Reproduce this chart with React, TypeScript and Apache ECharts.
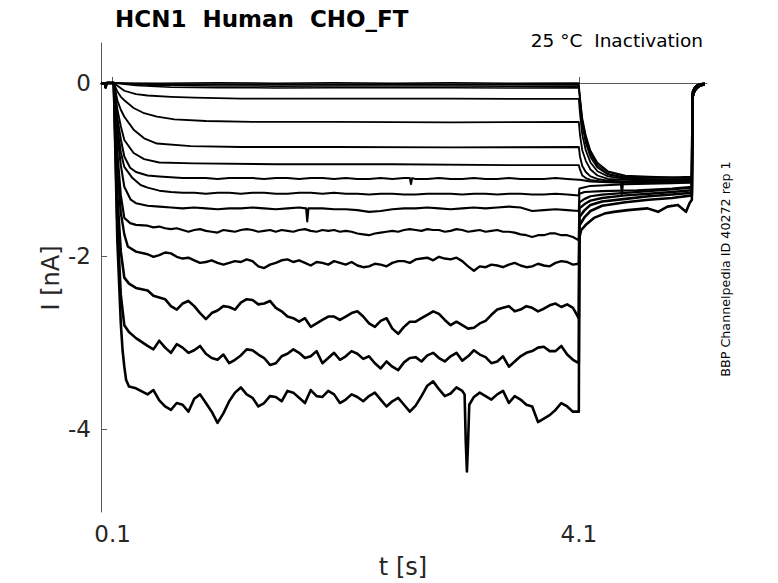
import React, { useEffect, useRef } from "react";
import * as echarts from "echarts";

type Pt = [number, number];

// ---- axis ticks ----
const xTicks = [0.1, 4.1];
const yTicks = [0, -2, -4];

// ---- shared time grids for the test-pulse body (s) ----
const tBody = [0.4, 0.5, 0.6, 0.7, 0.8, 0.9, 1.0, 1.1, 1.2, 1.3, 1.4, 1.5, 1.6, 1.7, 1.8, 1.9, 2.0, 2.1, 2.2, 2.3, 2.4, 2.5, 2.6, 2.7, 2.8, 2.9, 3.0, 3.1, 3.2, 3.3, 3.4, 3.5, 3.6, 3.7, 3.8, 3.9, 4.0, 4.1];
const tHalf = [0.45, 0.55, 0.65, 0.75, 0.85, 0.95, 1.05, 1.15, 1.25, 1.35, 1.45, 1.55, 1.65, 1.75, 1.85, 1.95, 2.05, 2.15, 2.25, 2.35, 2.45, 2.55, 2.65, 2.75, 2.85, 2.95, 3.05, 3.15, 3.25, 3.35, 3.45, 3.55, 3.65, 3.75, 3.85, 3.95, 4.05];

// ---- holding segment before the step (nA) ----
const preStep: Pt[] = [[0, 0], [0.035, -0.01], [0.04, -0.05], [0.045, -0.01], [0.05, 0], [0.1, 0]];

// ---- return to holding after the tail ----
const hookA: Pt[] = [[5.076, -0.1], [5.09, -0.06], [5.11, -0.03], [5.14, -0.012], [5.18, -0.004]];
const hookB: Pt[] = [[5.076, -0.13], [5.09, -0.08], [5.11, -0.045], [5.14, -0.022], [5.18, -0.01]];
const hookC: Pt[] = [[5.076, -0.16], [5.09, -0.1], [5.11, -0.06], [5.14, -0.03], [5.18, -0.015]];

// ---- traces near 0 ----
const trace01: Pt[] = [[0.11, 0], [0.5, -0.004], [1.0, 0.002], [1.5, -0.003], [2.0, 0.003], [2.5, -0.002], [3.0, 0.002], [3.5, -0.003], [4.1, 0]];
const tail01: Pt[] = [[4.11, -0.15], [4.13, -0.4], [4.16, -0.6], [4.2, -0.78], [4.26, -0.92], [4.35, -1.02], [4.5, -1.07], [4.7, -1.08], [4.9, -1.09], [5.07, -1.08]];
const trace02: Pt[] = [[0.11, 0], [0.5, -0.02], [1.0, -0.018], [1.5, -0.022], [2.0, -0.02], [2.5, -0.018], [3.0, -0.022], [3.5, -0.02], [4.1, -0.02]];
const tail02: Pt[] = [[4.11, -0.18], [4.13, -0.43], [4.16, -0.63], [4.2, -0.8], [4.26, -0.94], [4.35, -1.03], [4.5, -1.08], [4.7, -1.09], [4.9, -1.09], [5.07, -1.1]];
const trace03: Pt[] = [[0.11, 0], [0.4, -0.025], [1.0, -0.035], [1.5, -0.037], [2.0, -0.034], [2.5, -0.036], [3.0, -0.035], [3.5, -0.037], [4.1, -0.035]];
const tail03: Pt[] = [[4.11, -0.2], [4.13, -0.46], [4.16, -0.66], [4.2, -0.83], [4.26, -0.96], [4.35, -1.05], [4.5, -1.09], [4.7, -1.1], [4.9, -1.1], [5.07, -1.1]];
const trace04: Pt[] = [[0.11, 0], [0.3, -0.03], [0.6, -0.05], [1.0, -0.055], [1.5, -0.057], [2.0, -0.055], [2.5, -0.056], [3.0, -0.055], [3.5, -0.057], [4.1, -0.056]];
const tail04: Pt[] = [[4.11, -0.22], [4.13, -0.5], [4.16, -0.7], [4.2, -0.86], [4.26, -0.98], [4.35, -1.06], [4.5, -1.1], [4.7, -1.11], [4.9, -1.11], [5.07, -1.11]];

// ---- shallow traces ----
const trace05: Pt[] = [[0.11, 0], [0.15, -0.04], [0.2, -0.09], [0.3, -0.13], [0.4, -0.145], [0.6, -0.16], [0.8, -0.17], [1.2, -0.18], [2.0, -0.18], [3.0, -0.182], [4.1, -0.185]];
const tail05: Pt[] = [[4.11, -0.35], [4.13, -0.6], [4.16, -0.78], [4.2, -0.92], [4.26, -1.02], [4.35, -1.08], [4.5, -1.11], [4.7, -1.12], [4.9, -1.12], [5.07, -1.12]];
const trace06: Pt[] = [[0.11, 0], [0.14, -0.1], [0.17, -0.16], [0.2, -0.2], [0.28, -0.29], [0.37, -0.35], [0.48, -0.39], [0.63, -0.42], [0.9, -0.44], [1.3, -0.45], [2.0, -0.45], [3.0, -0.455], [4.1, -0.45]];
const tail06: Pt[] = [[4.11, -0.6], [4.13, -0.78], [4.16, -0.9], [4.2, -1.0], [4.26, -1.07], [4.35, -1.11], [4.5, -1.12], [4.7, -1.13], [4.9, -1.13], [5.07, -1.13]];
const trace07: Pt[] = [[0.11, 0], [0.14, -0.2], [0.17, -0.31], [0.2, -0.39], [0.28, -0.54], [0.37, -0.64], [0.48, -0.7], [0.77, -0.73], [1.2, -0.74], [2.0, -0.74], [3.0, -0.745], [4.1, -0.74]];
const tail07: Pt[] = [[4.11, -0.85], [4.13, -0.96], [4.16, -1.03], [4.2, -1.08], [4.26, -1.11], [4.35, -1.13], [4.5, -1.14], [4.7, -1.14], [4.9, -1.14], [5.07, -1.14]];
const trace08: Pt[] = [[0.11, 0], [0.14, -0.3], [0.17, -0.5], [0.2, -0.66], [0.28, -0.81], [0.37, -0.88], [0.5, -0.92], [0.8, -0.93], [1.5, -0.94], [2.5, -0.94], [3.5, -0.95], [4.1, -0.95]];
const tail08: Pt[] = [[4.11, -1.0], [4.13, -1.07], [4.16, -1.1], [4.2, -1.12], [4.3, -1.14], [4.5, -1.15], [4.7, -1.15], [4.9, -1.15], [5.07, -1.15]];

// ---- middle traces (onset + body on tBody) ----
const onset09: Pt[] = [[0.11, 0], [0.14, -0.4], [0.17, -0.65], [0.2, -0.85], [0.25, -0.98], [0.3, -1.03]];
const body09 = [-1.07, -1.08, -1.09, -1.1, -1.1, -1.1, -1.11, -1.1, -1.1, -1.1, -1.11, -1.1, -1.1, -1.11, -1.1, -1.1, -1.11, -1.1, -1.11, -1.11, -1.1, -1.11, -1.1, -1.11, -1.11, -1.1, -1.11, -1.11, -1.1, -1.11, -1.11, -1.1, -1.11, -1.11, -1.11, -1.1, -1.11, -1.12];
const spike09: Pt[] = [[2.65, -1.1], [2.66, -1.17], [2.67, -1.1], [4.46, -1.15], [4.47, -1.29], [4.48, -1.15]];
const tail09: Pt[] = [[4.11, -1.12], [4.2, -1.14], [4.4, -1.15], [4.6, -1.15], [4.8, -1.14], [5.07, -1.14]];

const onset10: Pt[] = [[0.11, 0], [0.14, -0.5], [0.17, -0.8], [0.2, -0.97], [0.27, -1.1], [0.34, -1.18]];
const body10 = [-1.21, -1.245, -1.26, -1.27, -1.27, -1.28, -1.27, -1.27, -1.28, -1.27, -1.27, -1.28, -1.28, -1.27, -1.27, -1.28, -1.27, -1.28, -1.28, -1.29, -1.28, -1.28, -1.29, -1.29, -1.28, -1.28, -1.28, -1.29, -1.28, -1.28, -1.29, -1.28, -1.28, -1.29, -1.29, -1.28, -1.29, -1.3];
const tail10: Pt[] = [[4.105, -1.22], [4.2, -1.19], [4.5, -1.17], [4.9, -1.16], [5.07, -1.15]];

const onset11: Pt[] = [[0.11, 0], [0.14, -0.6], [0.17, -0.95], [0.2, -1.2], [0.255, -1.35], [0.3, -1.39]];
const body11 = [-1.42, -1.43, -1.44, -1.45, -1.44, -1.45, -1.46, -1.45, -1.45, -1.44, -1.45, -1.46, -1.45, -1.44, -1.45, -1.45, -1.46, -1.46, -1.47, -1.49, -1.48, -1.46, -1.45, -1.45, -1.44, -1.45, -1.46, -1.45, -1.44, -1.45, -1.44, -1.43, -1.44, -1.48, -1.47, -1.46, -1.47, -1.48];
const spike11: Pt[] = [[1.76, -1.45], [1.77, -1.6], [1.78, -1.45]];
const tail11: Pt[] = [[4.105, -1.28], [4.15, -1.26], [4.3, -1.25], [4.6, -1.24], [4.9, -1.22], [5.07, -1.2]];

// ---- deep traces: body on tBody, extra wiggle on tHalf ----
const onset12: Pt[] = [[0.11, 0], [0.14, -0.8], [0.17, -1.3], [0.2, -1.56], [0.25, -1.62], [0.3, -1.64]];
const body12 = [-1.65, -1.66, -1.69, -1.7, -1.7, -1.71, -1.73, -1.71, -1.7, -1.7, -1.71, -1.72, -1.71, -1.7, -1.71, -1.7, -1.7, -1.71, -1.74, -1.76, -1.73, -1.71, -1.7, -1.7, -1.69, -1.7, -1.71, -1.7, -1.71, -1.72, -1.7, -1.72, -1.75, -1.78, -1.76, -1.74, -1.76, -1.82];
const half12 = [-1.67, -1.68, -1.68, -1.72, -1.69, -1.72, -1.7, -1.72, -1.69, -1.72, -1.7, -1.7, -1.72, -1.69, -1.72, -1.71, -1.72, -1.72, -1.75, -1.74, -1.72, -1.72, -1.69, -1.71, -1.7, -1.72, -1.69, -1.72, -1.7, -1.71, -1.72, -1.73, -1.76, -1.76, -1.74, -1.76, -1.78];
const tail12: Pt[] = [[4.105, -1.38], [4.15, -1.34], [4.2, -1.31], [4.3, -1.29], [4.5, -1.27], [4.7, -1.25], [4.9, -1.23], [5.07, -1.21]];

const onset13: Pt[] = [[0.11, 0], [0.14, -1.0], [0.17, -1.5], [0.2, -1.75], [0.23, -1.89], [0.3, -1.95]];
const body13 = [-1.98, -1.99, -1.97, -2.03, -2.05, -2.07, -2.08, -2.08, -2.07, -2.06, -2.14, -2.08, -2.04, -2.05, -2.11, -2.08, -2.06, -2.1, -2.11, -2.12, -2.1, -2.08, -2.06, -2.04, -2.02, -2.01, -2.04, -2.06, -2.17, -2.13, -2.11, -2.1, -2.11, -2.12, -2.11, -2.08, -2.07, -2.09];
const half13 = [-2.01, -1.96, -2.01, -2.02, -2.08, -2.05, -2.1, -2.06, -2.04, -2.12, -2.1, -2.05, -2.07, -2.08, -2.07, -2.1, -2.08, -2.07, -2.13, -2.09, -2.12, -2.06, -2.08, -2.03, -2.05, -2.03, -2.02, -2.12, -2.12, -2.1, -2.13, -2.08, -2.13, -2.09, -2.12, -2.06, -2.1];
const tail13: Pt[] = [[4.105, -1.45], [4.15, -1.4], [4.2, -1.36], [4.3, -1.33], [4.5, -1.3], [4.7, -1.28], [4.9, -1.26], [5.07, -1.24]];

const onset14: Pt[] = [[0.11, 0], [0.14, -1.3], [0.17, -1.95], [0.2, -2.25], [0.24, -2.32], [0.3, -2.37]];
const body14 = [-2.4, -2.48, -2.58, -2.55, -2.58, -2.73, -2.63, -2.59, -2.54, -2.51, -2.55, -2.6, -2.7, -2.76, -2.82, -2.74, -2.7, -2.7, -2.64, -2.78, -2.75, -2.84, -2.82, -2.76, -2.68, -2.67, -2.8, -2.8, -2.83, -2.75, -2.62, -2.58, -2.62, -2.6, -2.61, -2.55, -2.56, -2.72];
const half14 = [-2.46, -2.5, -2.62, -2.52, -2.66, -2.66, -2.58, -2.62, -2.5, -2.56, -2.52, -2.64, -2.72, -2.72, -2.78, -2.7, -2.74, -2.66, -2.7, -2.82, -2.72, -2.9, -2.76, -2.72, -2.64, -2.74, -2.76, -2.84, -2.78, -2.68, -2.6, -2.64, -2.58, -2.64, -2.57, -2.59, -2.6];
const tail14: Pt[] = [[4.105, -1.55], [4.15, -1.47], [4.2, -1.41], [4.3, -1.37], [4.5, -1.34], [4.7, -1.31], [4.9, -1.29], [5.07, -1.27]];

const onset15: Pt[] = [[0.11, 0], [0.14, -1.6], [0.17, -2.45], [0.2, -2.8], [0.24, -2.88], [0.3, -2.95]];
const body15 = [-3.04, -2.98, -3.12, -3.06, -3.09, -3.13, -3.2, -3.24, -3.15, -3.09, -3.18, -3.24, -3.13, -3.12, -3.16, -3.24, -3.12, -3.16, -3.13, -3.16, -3.3, -3.28, -3.23, -3.17, -3.15, -3.18, -3.16, -3.21, -3.09, -3.17, -3.22, -3.28, -3.16, -3.1, -3.05, -3.1, -3.14, -3.24];
const half15 = [-3.08, -3.06, -3.02, -3.12, -3.04, -3.18, -3.14, -3.2, -3.08, -3.14, -3.26, -3.16, -3.08, -3.18, -3.1, -3.18, -3.2, -3.1, -3.19, -3.24, -3.22, -3.32, -3.18, -3.22, -3.12, -3.22, -3.12, -3.16, -3.14, -3.24, -3.16, -3.22, -3.12, -3.06, -3.1, -3.04, -3.2];
const tail15: Pt[] = [[4.105, -1.65], [4.15, -1.55], [4.2, -1.48], [4.3, -1.42], [4.5, -1.38], [4.7, -1.35], [4.9, -1.33], [5.07, -1.3]];

const onset16: Pt[] = [[0.11, 0], [0.14, -1.82], [0.17, -2.78], [0.185, -3.09], [0.2, -3.28], [0.215, -3.43], [0.24, -3.51], [0.3, -3.53]];
const body16 = [-3.6, -3.67, -3.78, -3.72, -3.65, -3.7, -3.93, -3.68, -3.52, -3.64, -3.7, -3.63, -3.56, -3.64, -3.55, -3.63, -3.6, -3.66, -3.63, -3.62, -3.66, -3.68, -3.72, -3.73, -3.5, -3.54, -3.59, -3.56, -3.63, -3.62, -3.6, -3.7, -3.66, -3.74, -3.88, -3.78, -3.74, -3.8];
const half16 = [-3.55, -3.74, -3.7, -3.8, -3.6, -3.8, -3.82, -3.58, -3.6, -3.74, -3.62, -3.68, -3.58, -3.7, -3.62, -3.56, -3.7, -3.6, -3.68, -3.58, -3.74, -3.64, -3.8, -3.62, -3.45, -3.62, -3.52, -4.15, -3.58, -3.66, -3.56, -3.62, -3.72, -3.92, -3.84, -3.7, -3.8];
const spike16: Pt[] = [[3.12, -3.6], [3.13, -4.15], [3.14, -4.49], [3.16, -3.72]];
const tail16: Pt[] = [[4.105, -1.79], [4.12, -1.7], [4.16, -1.64], [4.23, -1.56], [4.32, -1.51], [4.4, -1.49], [4.52, -1.47], [4.69, -1.45], [4.78, -1.49], [4.86, -1.43], [4.95, -1.41], [5.02, -1.49], [5.05, -1.39], [5.07, -1.35]];

const zip = (ts: number[], vals: number[]): Pt[] => ts.map((t, i) => [t, vals[i]] as Pt);

const TRACES: { parts: Pt[][]; width: number }[] = [
  { parts: [preStep, trace01, tail01, hookA], width: 1.5 },
  { parts: [preStep, trace02, tail02, hookA], width: 1.5 },
  { parts: [preStep, trace03, tail03, hookA], width: 1.5 },
  { parts: [preStep, trace04, tail04, hookA], width: 1.5 },
  { parts: [preStep, trace05, tail05, hookA], width: 1.8 },
  { parts: [preStep, trace06, tail06, hookB], width: 1.8 },
  { parts: [preStep, trace07, tail07, hookB], width: 1.9 },
  { parts: [preStep, trace08, tail08, hookB], width: 1.9 },
  { parts: [preStep, onset09, zip(tBody, body09), spike09, tail09, hookB], width: 2 },
  { parts: [preStep, onset10, zip(tBody, body10), tail10, hookB], width: 2 },
  { parts: [preStep, onset11, zip(tBody, body11), spike11, tail11, hookB], width: 2.1 },
  { parts: [preStep, onset12, zip(tBody, body12), zip(tHalf, half12), tail12, hookC], width: 2.2 },
  { parts: [preStep, onset13, zip(tBody, body13), zip(tHalf, half13), tail13, hookC], width: 2.4 },
  { parts: [preStep, onset14, zip(tBody, body14), zip(tHalf, half14), tail14, hookC], width: 2.6 },
  { parts: [preStep, onset15, zip(tBody, body15), zip(tHalf, half15), tail15, hookC], width: 2.6 },
  { parts: [preStep, onset16, zip(tBody, body16), zip(tHalf, half16), spike16, tail16, hookC], width: 2.6 },
];

const FONT = '"DejaVu Sans", "Liberation Sans", sans-serif';
const AXIS_COLOR = "#5a5a5a";
const LABEL_COLOR = "#262626";

export default function App() {
  const ref = useRef<HTMLDivElement>(null);
  useEffect(() => {
    if (!ref.current) return;
    const chart = echarts.init(ref.current, undefined, { renderer: "svg" });
    const series = TRACES.map((tr) => {
      const pts = ([] as Pt[]).concat(...tr.parts).slice().sort((a, b) => a[0] - b[0]);
      return {
        type: "line" as const,
        data: pts,
        showSymbol: false,
        symbol: "none",
        silent: true,
        lineStyle: { color: "#000", width: tr.width, join: "round" as const },
      };
    });
    chart.setOption({
      animation: false,
      backgroundColor: "#fff",
      grid: { left: 101, right: 71, top: 43, bottom: 71, containLabel: false },
      xAxis: {
        type: "value",
        min: 0,
        max: 5.2,
        axisLine: { show: true, lineStyle: { color: AXIS_COLOR, width: 1 } },
        axisTick: { show: true, inside: true, length: 6, customValues: xTicks, lineStyle: { color: AXIS_COLOR } },
        axisLabel: {
          customValues: xTicks,
          fontSize: 23,
          fontFamily: FONT,
          color: LABEL_COLOR,
          margin: 10,
          formatter: (v: number) => v.toFixed(1),
        },
        splitLine: { show: false },
      },
      yAxis: {
        type: "value",
        min: -4.96,
        max: 0.462,
        axisLine: { show: true, lineStyle: { color: AXIS_COLOR, width: 1 } },
        axisTick: { show: true, inside: true, length: 6, customValues: yTicks, lineStyle: { color: AXIS_COLOR } },
        axisLabel: {
          customValues: yTicks,
          fontSize: 23,
          fontFamily: FONT,
          color: LABEL_COLOR,
          margin: 10,
          formatter: (v: number) => String(Math.round(v)),
        },
        splitLine: { show: false },
      },
      graphic: [
        {
          type: "text",
          x: 115,
          y: 19,
          style: { text: "HCN1  Human  CHO_FT", font: `bold 23px ${FONT}`, fill: "#000", align: "left", verticalAlign: "middle" },
        },
        {
          type: "text",
          x: 703,
          y: 40,
          style: { text: "25 °C  Inactivation", font: `18.5px ${FONT}`, fill: "#000", align: "right", verticalAlign: "middle" },
        },
        {
          type: "text",
          x: 51,
          y: 278,
          rotation: Math.PI / 2,
          style: { text: "I [nA]", font: `24px ${FONT}`, fill: LABEL_COLOR, align: "center", verticalAlign: "middle" },
        },
        {
          type: "text",
          x: 403,
          y: 567,
          style: { text: "t [s]", font: `24px ${FONT}`, fill: LABEL_COLOR, align: "center", verticalAlign: "middle" },
        },
        {
          type: "text",
          x: 725,
          y: 269,
          rotation: Math.PI / 2,
          style: { text: "BBP Channelpedia ID 40272 rep 1", font: `12.7px ${FONT}`, fill: "#000", align: "center", verticalAlign: "middle" },
        },
      ],
      series,
    });
    return () => chart.dispose();
  }, []);
  return <div ref={ref} style={{ position: "fixed", left: 0, top: 0, width: 778, height: 583 }} />;
}
